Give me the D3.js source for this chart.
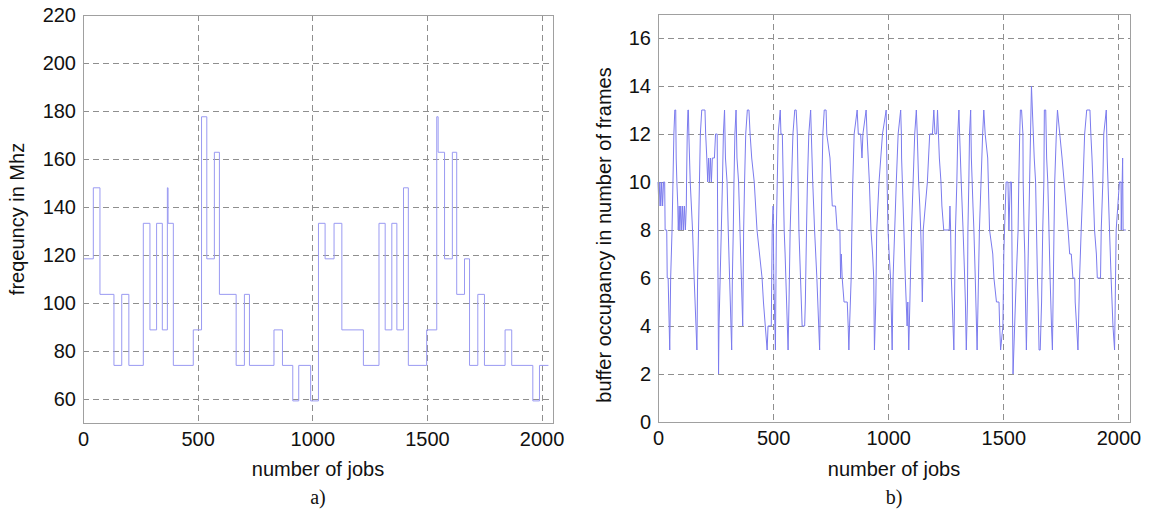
<!DOCTYPE html>
<html>
<head>
<meta charset="utf-8">
<script src="https://cdn.jsdelivr.net/npm/d3@7"></script>
<style>
  body { margin: 0; background: #fff; }
  text { font-family: "Liberation Sans", Arial, sans-serif; fill: #111; }
  .grid line { stroke: #8f8f8f; stroke-dasharray: 6,4; shape-rendering: crispEdges; }
  .frame { fill: none; stroke: #a0a0a0; shape-rendering: crispEdges; }
  .caption { font-family: "Liberation Serif", "Times New Roman", serif; }
</style>
</head>
<body>
<div id="chart"></div>
<script>
// a) frequency: job where each step starts, and its level in Mhz
var freqJobs = [0, 45, 74, 135, 169, 200, 263, 292, 321, 346, 368, 371, 394, 481, 517, 540, 573, 595,
  668, 704, 726, 833, 870, 915, 941, 993, 1027, 1056, 1095, 1129, 1223, 1291, 1318, 1347, 1369,
  1398, 1419, 1499, 1543, 1549, 1577, 1611, 1630, 1664, 1686, 1722, 1751, 1841, 1870, 1962, 1991, 2030];
var freqMhz = [118.4, 148, 103.6, 74, 103.6, 74, 133.2, 88.8, 133.2, 88.8, 148, 133.2, 74, 88.8, 177.6, 118.4, 162.8, 103.6,
  74, 103.6, 74, 88.8, 74, 59.2, 74, 59.2, 133.2, 118.4, 133.2, 88.8, 74, 133.2, 88.8, 133.2, 88.8,
  148, 74, 88.8, 177.6, 162.8, 118.4, 162.8, 103.6, 118.4, 74, 103.6, 74, 88.8, 74, 59.2, 74, 74];

// b) buffer occupancy: [job, frames]
var bufferPoints = [
  [0,10],[4,9],[8,10],[12,9],[16,10],[20,9],[24,10],[29,10],[31,8],[38,8],[40,6],[44,6],[51,3],
  [55,6],[61,8],[65,10],[69,12],[73,13],[77,13],[79,11],[82,10],[86,9],[88,8],[92,9],[95,8],[99,9],[103,8],
  [107,9],[111,8],[115,9],[119,8],[123,9],[124,10],[127,12],[130,13],[132,13],[134,12],[140,10],[150,8],[157,6],[169,3],
  [172,6],[176,8],[180,10],[184,12],[190,13],[204,13],[207,12],[212,11],[216,10],[220,11],[224,10],[228,11],
  [232,10],[236,11],[245,11],[250,12],[257,12],[263,2],
  [265,4],[270,6],[275,8],[280,10],[284,12],[289,13],[293,11],[300,10],[305,8],[311,6],[314,5],[320,3],
  [323,6],[327,8],[330,10],[334,12],[339,13],[343,11],[350,10],[356,8],[362,6],[368,4],
  [372,8],[376,10],[381,12],[388,13],[395,13],[400,12],[407,11],[418,10],[430,8],[441,7],[452,6],[458,5],
  [466,4],[474,3],[478,4],[492,4],[496,8],[500,9],[503,6],[510,3],
  [514,8],[518,10],[522,12],[531,13],[534,12],[540,12],[544,10],[548,8],[552,7],[565,3],
  [569,5],[574,8],[580,10],[586,12],[594,13],[600,13],[605,12],[612,8],[619,6],[626,4],[637,4],
  [640,5],[645,8],[649,10],[655,12],[663,13],[666,12],[672,10],[680,8],[690,6],[702,3],
  [706,6],[709,8],[712,10],[716,12],[722,13],[730,13],[733,12],[747,11],[757,9],[771,9],[778,8],[790,8],
  [793,6],[796,7],[800,6],[808,5],[822,5],[826,4],[829,3],
  [832,4],[839,6],[842,8],[846,10],[852,12],[865,13],[870,12],[880,12],[886,11],[890,12],[904,13],[908,12],
  [918,10],[925,8],[932,7],[937,6],[940,3],
  [946,5],[950,8],[960,10],[975,12],[991,13],[995,10],[999,8],[1004,7],[1010,6],[1017,3],
  [1021,6],[1028,8],[1035,10],[1043,12],[1054,13],[1057,12],[1058,11],[1068,8],[1074,6],[1082,4],[1085,5],[1089,3],
  [1094,5],[1101,8],[1108,10],[1115,12],[1122,13],[1126,12],[1132,10],[1137,9],[1141,8],[1144,7],[1146,6],
  [1148,5],[1150,6],[1152,8],[1170,10],[1180,12],[1192,12],[1198,13],[1203,12],[1210,12],[1214,13],[1218,12],
  [1222,11],[1229,10],[1233,9],[1241,8],[1265,8],[1268,9],[1271,8],[1274,6],[1285,3],
  [1292,8],[1298,10],[1302,12],[1307,13],[1310,12],[1317,10],[1325,8],[1332,6],[1335,5],[1339,3],
  [1344,5],[1346,8],[1350,10],[1353,12],[1358,13],[1361,11],[1368,9],[1372,8],[1378,6],[1386,3],
  [1396,8],[1403,10],[1410,12],[1415,13],[1421,12],[1432,11],[1440,8],[1454,7],[1459,6],[1470,5],[1481,5],
  [1484,4],[1488,3],
  [1498,4],[1502,7],[1505,8],[1512,10],[1520,10],[1524,8],[1530,10],[1535,10],[1542,2],
  [1549,4],[1556,6],[1560,7],[1564,8],[1567,10],[1571,12],[1574,13],[1579,13],[1585,12],[1586,10],[1590,8],
  [1593,7],[1596,5],[1600,3],
  [1604,5],[1610,8],[1614,10],[1618,12],[1622,14],[1630,12],[1634,11],[1640,10],[1644,8],[1648,6],[1651,5],
  [1655,3],[1660,3],
  [1666,5],[1671,8],[1676,10],[1678,13],[1684,13],[1688,11],[1693,10],[1698,8],[1703,6],[1709,4],[1713,3],
  [1720,8],[1723,10],[1730,12],[1735,13],[1745,12],[1755,11],[1764,10],[1781,8],[1788,7],[1795,7],[1802,6],
  [1810,6],[1812,5],[1818,4],[1824,3],
  [1831,6],[1838,8],[1846,10],[1853,12],[1862,13],[1876,13],[1880,12],[1885,11],[1889,10],[1896,8],[1904,7],
  [1908,6],[1922,6],[1925,8],[1932,10],[1936,12],[1947,13],[1951,11],[1961,8],[1968,6],[1976,4],[1983,3],
  [1990,8],[1997,9],[2004,10],[2011,10],[2012,8],[2018,11],[2020,8],[2032,8]
];

var jobTicks = [0, 500, 1000, 1500, 2000];
var freqTicks = [60, 80, 100, 120, 140, 160, 180, 200, 220];
var bufferTicks = [0, 2, 4, 6, 8, 10, 12, 14, 16];

var width = 1150;
var height = 514;

var svg = d3.select('#chart')
  .append('svg')
  .attr('width', width)
  .attr('height', height);

function drawPanel(p) {
  var x = d3.scaleLinear().domain([0, 2050]).range([p.left, p.right]);
  var y = d3.scaleLinear().domain(p.yDomain).range([p.bottom, p.top]);

  var g = svg.append('g');

  // dashed grid
  var grid = g.append('g').attr('class', 'grid');
  grid.selectAll('.gy')
    .data(p.yTicks.filter(function(d) { return d > p.yDomain[0] && d < p.yDomain[1]; }))
    .enter().append('line')
    .attr('x1', p.left).attr('x2', p.right)
    .attr('y1', function(d) { return Math.round(y(d)) + 0.5; })
    .attr('y2', function(d) { return Math.round(y(d)) + 0.5; });
  grid.selectAll('.gx')
    .data(jobTicks.filter(function(d) { return d > 0; }))
    .enter().append('line')
    .attr('y1', p.top).attr('y2', p.bottom)
    .attr('x1', function(d) { return Math.round(x(d)) + 0.5; })
    .attr('x2', function(d) { return Math.round(x(d)) + 0.5; });

  // data line
  g.append('path')
    .datum(p.points)
    .attr('fill', 'none')
    .attr('stroke', p.color)
    .attr('stroke-width', 1)
    .attr('d', d3.line()
      .x(function(d) { return x(d[0]); })
      .y(function(d) { return y(d[1]); })
      .curve(p.curve));

  // box
  g.append('rect')
    .attr('class', 'frame')
    .attr('x', p.left + 0.5).attr('y', p.top + 0.5)
    .attr('width', p.right - p.left).attr('height', p.bottom - p.top);

  // axes (labels only)
  var xAxis = g.append('g')
    .attr('transform', 'translate(0,' + p.bottom + ')')
    .call(d3.axisBottom(x).tickValues(jobTicks).tickFormat(d3.format('d')).tickSize(0).tickPadding(9));
  var yAxis = g.append('g')
    .attr('transform', 'translate(' + p.left + ',0)')
    .call(d3.axisLeft(y).tickValues(p.yTicks).tickFormat(d3.format('d')).tickSize(0).tickPadding(7));
  [xAxis, yAxis].forEach(function(a) {
    a.select('.domain').remove();
    a.selectAll('text').attr('font-size', 20).attr('font-family', null).attr('fill', '#111');
  });

  var cx = (p.left + p.right) / 2;
  g.append('text')
    .attr('x', cx).attr('y', 476)
    .attr('text-anchor', 'middle')
    .attr('font-size', 20)
    .text('number of jobs');

  g.append('text')
    .attr('transform', 'translate(' + p.yLabelX + ',' + p.yLabelY + ') rotate(-90)')
    .attr('text-anchor', 'middle')
    .attr('font-size', 20)
    .text(p.yLabel);

  g.append('text')
    .attr('class', 'caption')
    .attr('x', cx).attr('y', 504)
    .attr('text-anchor', 'middle')
    .attr('font-size', 20)
    .text(p.caption);
}

drawPanel({
  left: 83, right: 553, top: 15, bottom: 423,
  yDomain: [50, 220], yTicks: freqTicks,
  points: freqJobs.map(function(j, i) { return [j, freqMhz[i]]; }),
  curve: d3.curveStepAfter,
  color: '#9a9af2',
  yLabel: 'freqeuncy in Mhz', yLabelX: 24, yLabelY: 219,
  caption: 'a)'
});

drawPanel({
  left: 658, right: 1130, top: 14, bottom: 422,
  yDomain: [0, 17], yTicks: bufferTicks,
  points: bufferPoints,
  curve: d3.curveLinear,
  color: '#7b7bee',
  yLabel: 'buffer occupancy in number of frames', yLabelX: 611, yLabelY: 235,
  caption: 'b)'
});
</script>
</body>
</html>
